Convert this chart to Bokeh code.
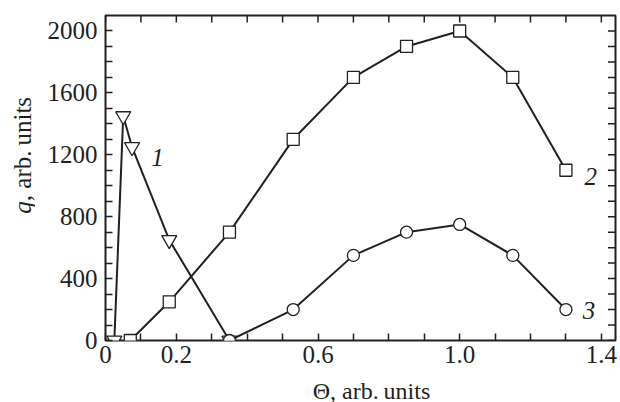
import math
from bokeh.plotting import figure
from bokeh.layouts import row, column
from bokeh.models import Range1d, FixedTicker, LinearAxis, Label
from bokeh.embed import file_html
from bokeh.resources import INLINE

# ---- data ----
s1_x = [0.025, 0.05, 0.075, 0.18, 0.35]
s1_y = [0, 1450, 1250, 650, 0]

s2_x = [0.07, 0.18, 0.35, 0.53, 0.70, 0.85, 1.0, 1.15, 1.30]
s2_y = [0, 250, 700, 1300, 1700, 1900, 2000, 1700, 1100]

s3_x = [0.35, 0.53, 0.70, 0.85, 1.0, 1.15, 1.30]
s3_y = [0, 200, 550, 700, 750, 550, 200]

x_ticks = [0, 0.2, 0.6, 1.0, 1.4]
x_tick_labels = ["0", "0.2", "0.6", "1.0", "1.4"]
x_minor = [0.1, 0.3, 0.4, 0.5, 0.7, 0.8, 0.9, 1.1, 1.2, 1.3]
y_ticks = [0, 400, 800, 1200, 1600, 2000]
y_minor = [100, 200, 300, 500, 600, 700, 900, 1000, 1100, 1300, 1400, 1500,
           1700, 1800, 1900]

X_MAX = 1.44
Y_MAX = 2100

FONT = "Liberation Serif"
INK = "#231f20"
FS = "25px"

SIDE_W = 35
MAIN_H = 373
TOP_B = 15
BOT_B = 33

y_range = Range1d(0, Y_MAX)

p = figure(width=620 - SIDE_W, height=MAIN_H, output_backend="svg",
           toolbar_location=None, x_range=Range1d(0, X_MAX), y_range=y_range,
           min_border_left=70, min_border_right=5, min_border_top=TOP_B,
           min_border_bottom=BOT_B, x_axis_location=None, y_axis_location=None)
p.grid.visible = False
p.outline_line_color = INK
p.outline_line_width = 2
p.background_fill_color = "white"
p.border_fill_color = "white"


def style(ax):
    ax.axis_line_color = None
    ax.major_tick_in = 7
    ax.major_tick_out = 0
    ax.minor_tick_in = 7
    ax.minor_tick_out = 0
    ax.major_tick_line_color = INK
    ax.minor_tick_line_color = INK
    ax.major_tick_line_width = 1.5
    ax.minor_tick_line_width = 1.5
    ax.major_label_text_font = FONT
    ax.major_label_text_font_size = FS
    ax.major_label_text_color = INK
    ax.major_label_standoff = 5


bottom = LinearAxis(ticker=FixedTicker(ticks=x_ticks, minor_ticks=x_minor),
                    major_label_overrides=dict(zip(x_ticks, x_tick_labels)))
style(bottom)
p.add_layout(bottom, "below")
left = LinearAxis(ticker=FixedTicker(ticks=y_ticks, minor_ticks=y_minor))
style(left)
left.major_label_standoff = 8
p.add_layout(left, "left")

# mirrored inward ticks on the top and right edges (half of each dash is clipped)
top_x = sorted(x_ticks + x_minor)
right_y = sorted(y_ticks + y_minor)
p.scatter(top_x, [Y_MAX] * len(top_x), marker="dash", angle=math.pi / 2,
          size=14, line_color=INK, line_width=1.5)
p.scatter([X_MAX] * len(right_y), right_y, marker="dash", size=15,
          line_color=INK, line_width=1.5)

# series 1
p.line(s1_x, s1_y, line_color=INK, line_width=2)
p.scatter(s1_x, s1_y, marker="inverted_triangle", size=15, fill_color="white",
          line_color=INK, line_width=1.3)
# series 2
p.line(s2_x, s2_y, line_color=INK, line_width=2)
p.scatter(s2_x, s2_y, marker="square", size=12, fill_color="white",
          line_color=INK, line_width=1.3)
# series 3
p.line(s3_x, s3_y, line_color=INK, line_width=2)
p.scatter(s3_x, s3_y, marker="circle", size=12, fill_color="white",
          line_color=INK, line_width=1.3)

# curve numbers
for txt, x, y in [("1", 0.147, 1180), ("2", 1.37, 1058), ("3", 1.365, 194)]:
    p.add_layout(Label(x=x, y=y, text=txt, text_font=FONT, text_font_size=FS,
                       text_font_style="italic", text_color=INK,
                       text_align="center", text_baseline="middle"))

# left strip with the y-axis title (italic q + upright rest)
side = figure(width=SIDE_W, height=MAIN_H, output_backend="svg",
              toolbar_location=None, x_range=Range1d(0, 1), y_range=y_range,
              min_border_left=0, min_border_right=0, min_border_top=TOP_B,
              min_border_bottom=BOT_B, x_axis_location=None, y_axis_location=None)
side.grid.visible = False
side.outline_line_color = None
side.add_layout(Label(x=0.63, y=819, text="q", angle=math.pi / 2,
                      text_font=FONT, text_font_size=FS, text_font_style="italic",
                      text_color=INK, text_align="left", text_baseline="middle"))
side.add_layout(Label(x=0.63, y=900, text=", arb.\u2009units", angle=math.pi / 2,
                      text_font=FONT, text_font_size=FS, text_color=INK,
                      text_align="left", text_baseline="middle"))

# bottom strip with the x-axis title
STRIP_H = 402 - MAIN_H
strip = figure(width=620, height=STRIP_H, output_backend="svg",
               toolbar_location=None, x_range=Range1d(0, 620),
               y_range=Range1d(0, STRIP_H), min_border=0,
               x_axis_location=None, y_axis_location=None)
strip.grid.visible = False
strip.outline_line_color = None
strip.add_layout(Label(x=371, y=STRIP_H - 17, text="\u0398, arb.\u2009units",
                       text_font=FONT, text_font_size="24px", text_color=INK,
                       text_align="center", text_baseline="middle"))

layout = column(row(side, p, spacing=0), strip, spacing=0)
open("out.html", "w").write(file_html(layout, INLINE))
